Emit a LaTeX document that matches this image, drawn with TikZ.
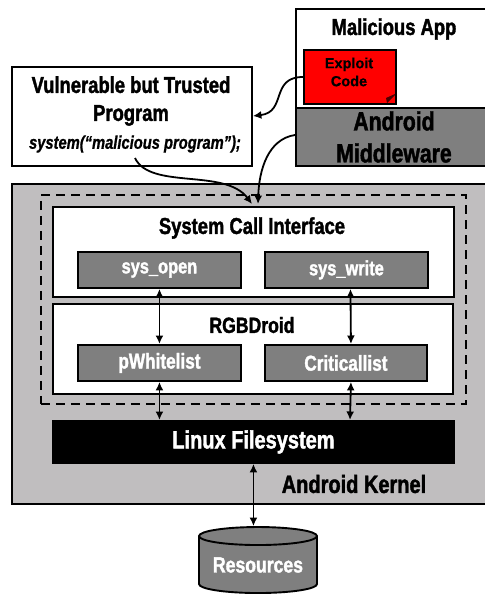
\documentclass[tikz,border=0pt]{standalone}
\usepackage{fontspec}
\setmainfont{Liberation Sans Bold}[FakeStretch=0.8,FakeBold=1.6,ItalicFont={Liberation Sans Bold Italic},ItalicFeatures={FakeStretch=0.8,FakeBold=0.8},BoldFont={Liberation Sans Bold},BoldFeatures={FakeStretch=0.8,FakeBold=1.6}]
\newfontfamily\widefont{Liberation Sans Bold}[FakeBold=0.6]
\usetikzlibrary{shapes.geometric,arrows.meta}
\definecolor{midgrey}{RGB}{127,127,127}
\definecolor{kernelgrey}{RGB}{192,190,191}
\tikzset{
  x=1pt,y=-1pt,
  box/.style={draw=black,line width=1.9pt,rectangle,inner sep=0pt,align=center,anchor=north west},
  whitebox/.style={box,fill=white},
  greybox/.style={box,fill=midgrey},
  subbox/.style={greybox,text=white,font=\fontsize{20.5}{22}\selectfont},
  title/.style={inner sep=0pt,font=\fontsize{23}{26}\selectfont},
  conn/.style={line width=1.8pt,-{Latex[length=8.5pt,width=8pt]}},
  biconn/.style={line width=1.8pt,{Latex[length=8.5pt,width=8pt]}-{Latex[length=8.5pt,width=8pt]}},
}
\begin{document}
\begin{tikzpicture}
\useasboundingbox (0,0) rectangle (485,595);
% top-right app
\node[whitebox,minimum width=200pt,minimum height=99pt] (app) at (295,8) {};
\node[title] (apptitle) at (394,29) {Malicious App};
\node[greybox,minimum width=200pt,minimum height=58pt,anchor=north west] (mw) at (295,107) {};
\node[title,font=\fontsize{26.5}{32}\selectfont,align=center] (mwtext) at (394,137) {Android\\Middleware};
% exploit code
\node[box,fill=red,minimum width=92pt,minimum height=54pt] (exploit) at (303,49) {};
\fill[black!70!red] (395,94) -- (395,95) -- (387,103) -- (386,98) -- cycle;
\node[inner sep=0pt,align=center,font=\widefont\fontsize{14.5}{18}\selectfont] (exploittext) at (349,72) {Exploit\\Code};
% vulnerable
\node[whitebox,minimum width=240pt,minimum height=99pt] (vuln) at (11,66) {};
\node[title,align=center,font=\fontsize{23}{28}\selectfont] (vulntext) at (131,101) {Vulnerable but Trusted\\Program};
\node[inner sep=0pt,font=\itshape\fontsize{18.4}{18}\selectfont] (systext) at (135,144) {system(“malicious program”);};
% kernel
\node[box,fill=kernelgrey,minimum width=490pt,minimum height=320pt] (kernel) at (11,183) {};
\node[box,dash pattern=on 9pt off 6pt,minimum width=425pt,minimum height=209pt] (trusted) at (40,194) {};
\node[whitebox,minimum width=401pt,minimum height=90pt] (sci) at (52,206) {};
\node[title] (scitext) at (252,228) {System Call Interface};
\node[subbox,minimum width=163pt,minimum height=36pt] (sysopen) at (77,251) {\raisebox{-2pt}{sys\_open}};
\node[subbox,minimum width=163pt,minimum height=36pt] (syswrite) at (264,251) {\raisebox{-2pt}{sys\_write}};
\node[whitebox,minimum width=400pt,minimum height=90pt] (rgb) at (52,303) {};
\node[title,font=\fontsize{22}{26}\selectfont] (rgbtext) at (252,325) {RGBDroid};
\node[subbox,font=\fontsize{21.5}{22}\selectfont,minimum width=163pt,minimum height=36pt] (pwl) at (77,344) {\raisebox{-2pt}{pWhitelist}};
\node[subbox,font=\fontsize{21.5}{22}\selectfont,minimum width=162pt,minimum height=36pt] (crit) at (264,344) {\raisebox{-2pt}{Criticallist}};
\node[box,fill=black,text=white,minimum width=401pt,minimum height=42pt,font=\fontsize{25}{26}\selectfont] (lfs) at (52,420) {Linux Filesystem};
\node[title,font=\fontsize{25}{26}\selectfont] (kerneltext) at (354,484) {Android Kernel};
% resources
\node[cylinder,shape border rotate=90,aspect=.2,draw=black,line width=1.9pt,fill=midgrey,text=white,
  minimum width=118pt,minimum height=66pt,inner sep=0pt,font=\fontsize{22}{24}\selectfont] (res) at (258,565) {\raisebox{-2pt}{Resources}};
% connectors
\coordinate (target1) at (252,204);
\coordinate (target2) at (258,204);
\coordinate (vulnstart) at (135,158);
\draw[conn] (exploit.west |- 0,77) .. controls (270,77) and (287,112) .. (vuln.east |- 0,116);
\draw[conn] (mw.west |- 0,135) .. controls (268,139) and (259,170) .. (target2);
\draw[conn] (vulnstart) .. controls (150,190) and (225,168) .. (target1);
\draw[biconn] (sysopen.south) -- (pwl.north);
\draw[biconn] ([xshift=4pt]syswrite.south) -- ([xshift=5pt]crit.north);
\draw[biconn] (pwl.south) -- (lfs.north -| pwl.south);
\draw[biconn] ([xshift=5pt]crit.south) -- (lfs.north -| 350,0);
\draw[biconn] (lfs.south) -- (lfs.south |- res.north);
\end{tikzpicture}
\end{document}
